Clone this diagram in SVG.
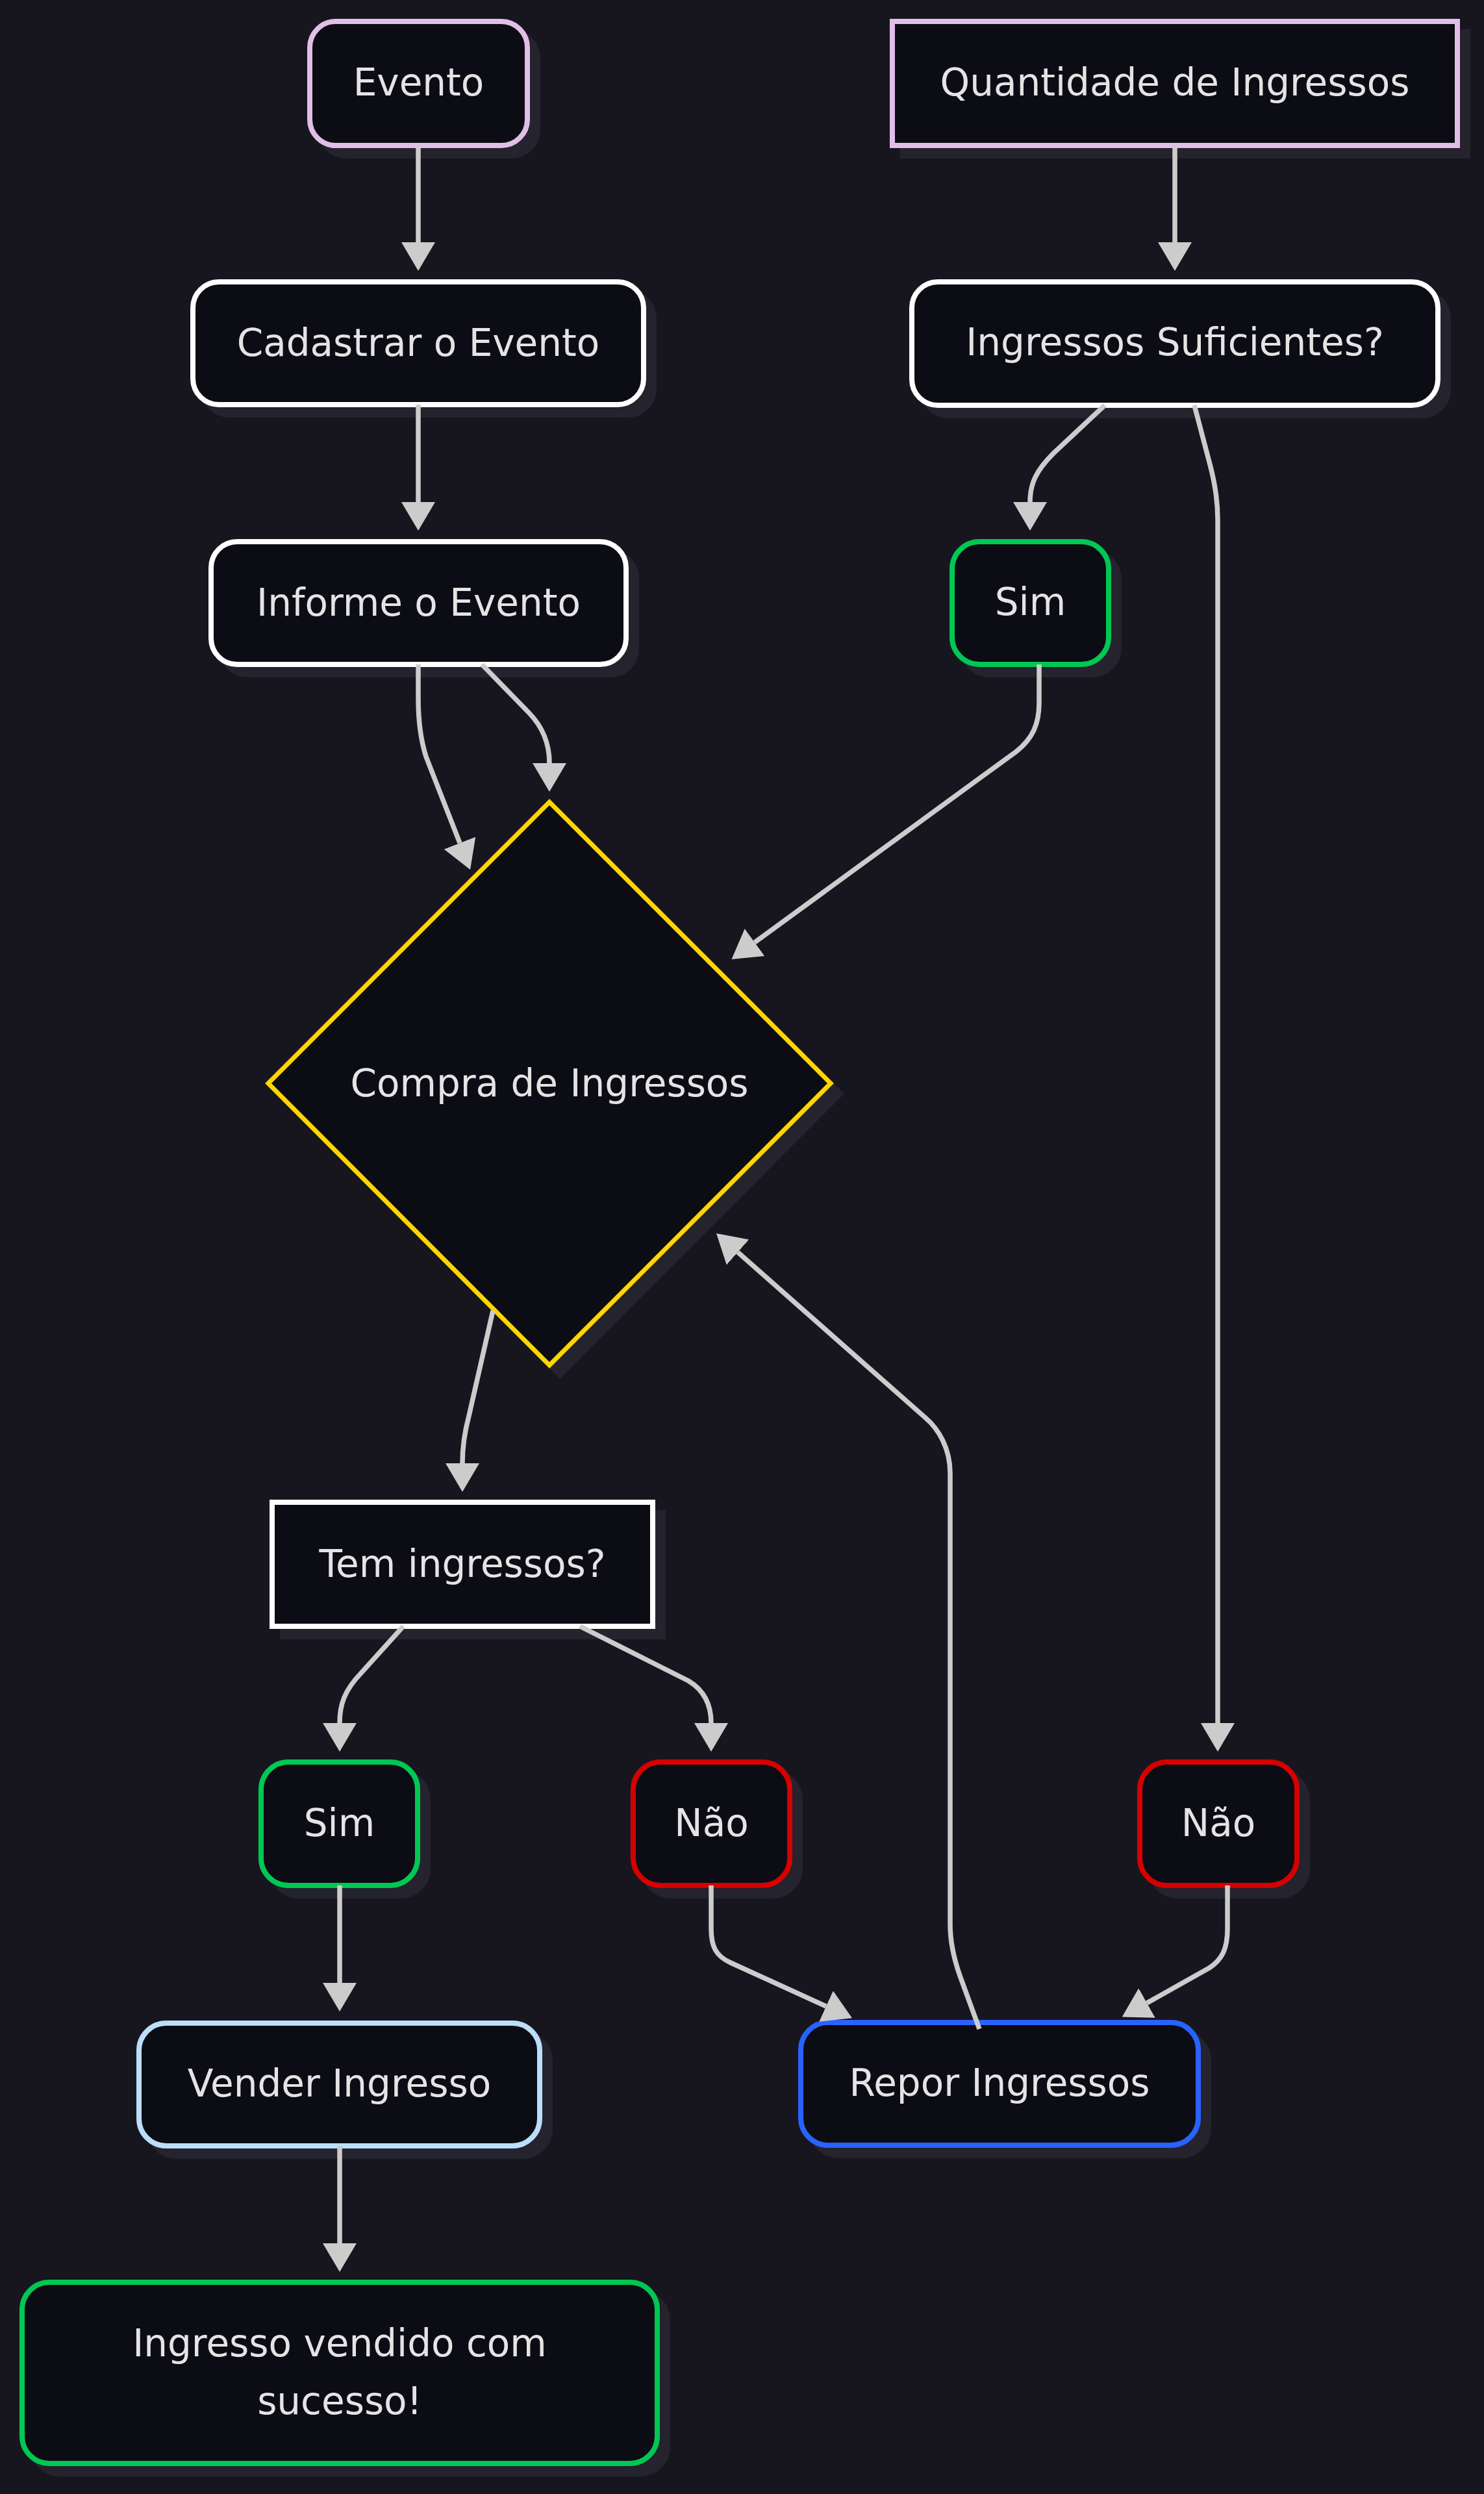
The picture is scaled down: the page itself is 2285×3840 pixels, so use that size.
<svg xmlns="http://www.w3.org/2000/svg" width="2285" height="3840" viewBox="0 0 2285 3840">
<style>
.sh{fill:#24232e;stroke:#24232e;stroke-width:8}
.n{fill:#0c0c14;stroke-width:8}
.t{font-family:"DejaVu Sans","Liberation Sans",sans-serif;font-size:58px;fill:#e4e4e4;text-anchor:middle}
.e{fill:none;stroke:#cccccc;stroke-width:7.5}
.pk{stroke:#e1bee7}.wh{stroke:#ffffff}.gr{stroke:#00c853}.rd{stroke:#d50000}.bl{stroke:#2962ff}.lb{stroke:#bbdefb}.yl{stroke:#ffd600;stroke-width:7}
</style>
<defs>
<marker id="arr" viewBox="0 0 44 52" markerWidth="44" markerHeight="52" refX="0" refY="26" orient="auto" markerUnits="userSpaceOnUse">
<path d="M0,0 L44,26 L0,52 Z" fill="#cccccc"/>
</marker>
</defs>
<rect width="2285" height="3840" fill="#17161f"/>

<g id="evento">
<rect class="sh" x="493" y="49" width="335" height="191" rx="40"/>
<rect class="n pk" x="477" y="33" width="335" height="191" rx="40"/>
<text class="t" x="644.5" y="147">Evento</text>
</g>
<g id="quantidade">
<rect class="sh" x="1390" y="49" width="870" height="191"/>
<rect class="n pk" x="1374" y="33" width="870" height="191"/>
<text class="t" x="1809" y="147">Quantidade de Ingressos</text>
</g>
<g id="cadastrar">
<rect class="sh" x="313" y="450" width="694" height="189" rx="40"/>
<rect class="n wh" x="297" y="434" width="694" height="189" rx="40"/>
<text class="t" x="644" y="548">Cadastrar o Evento</text>
</g>
<g id="suficientes">
<rect class="sh" x="1420" y="450" width="810" height="190" rx="40"/>
<rect class="n wh" x="1404" y="434" width="810" height="190" rx="40"/>
<text class="t" x="1809" y="547">Ingressos Suficientes?</text>
</g>
<g id="informe">
<rect class="sh" x="341" y="850" width="639" height="189" rx="40"/>
<rect class="n wh" x="325" y="834" width="639" height="189" rx="40"/>
<text class="t" x="644.5" y="948">Informe o Evento</text>
</g>
<g id="sim1">
<rect class="sh" x="1482" y="850" width="241" height="189" rx="42"/>
<rect class="n gr" x="1466" y="834" width="241" height="189" rx="42"/>
<text class="t" x="1586.5" y="947">Sim</text>
</g>
<g id="compra">
<polygon class="sh" points="862,1251 1295,1684 862,2118 429,1684" style="stroke-width:7"/>
<polygon class="n yl" points="846,1235 1279,1668 846,2102 413,1668"/>
<text class="t" x="846" y="1688">Compra de Ingressos</text>
</g>
<g id="tem">
<rect class="sh" x="435" y="2329" width="586" height="191"/>
<rect class="n wh" x="419" y="2313" width="586" height="191"/>
<text class="t" x="712" y="2428">Tem ingressos?</text>
</g>
<g id="sim2">
<rect class="sh" x="418" y="2729" width="241" height="190" rx="42"/>
<rect class="n gr" x="402" y="2713" width="241" height="190" rx="42"/>
<text class="t" x="522.5" y="2827">Sim</text>
</g>
<g id="nao1">
<rect class="sh" x="991" y="2729" width="241" height="190" rx="42"/>
<rect class="n rd" x="975" y="2713" width="241" height="190" rx="42"/>
<text class="t" x="1095.5" y="2827">Não</text>
</g>
<g id="nao2">
<rect class="sh" x="1771" y="2729" width="242" height="190" rx="42"/>
<rect class="n rd" x="1755" y="2713" width="242" height="190" rx="42"/>
<text class="t" x="1876" y="2827">Não</text>
</g>
<g id="repor">
<rect class="sh" x="1249" y="3130" width="612" height="189" rx="42"/>
<rect class="n bl" x="1233" y="3114" width="612" height="189" rx="42"/>
<text class="t" x="1539" y="3227">Repor Ingressos</text>
</g>
<g id="vender">
<rect class="sh" x="230" y="3131" width="617" height="189" rx="42"/>
<rect class="n lb" x="214" y="3115" width="617" height="189" rx="42"/>
<text class="t" x="522.5" y="3228">Vender Ingresso</text>
</g>
<g id="vendido">
<rect class="sh" x="50" y="3530" width="978" height="279" rx="42"/>
<rect class="n gr" x="34" y="3514" width="978" height="279" rx="42"/>
<text class="t" x="523" y="3628">Ingresso vendido com</text>
<text class="t" x="523" y="3717">sucesso!</text>
</g>

<g id="connectors" marker-end="url(#arr)">
<path class="e" marker-end="url(#arr)" d="M644,224 L644,373"/>
<path class="e" marker-end="url(#arr)" d="M1809,224 L1809,373"/>
<path class="e" marker-end="url(#arr)" d="M644,623 L644,773"/>
<path class="e" marker-end="url(#arr)" d="M1701,624 L1622,698 C1595,725 1586,745 1586,773"/>
<path class="e" marker-end="url(#arr)" d="M1839,624 L1863,715 C1871,745 1875,770 1875,800 L1875,2653"/>
<path class="e" marker-end="url(#arr)" d="M644,1023 L644,1075 C644,1110 648,1140 656,1165 L708,1298"/>
<path class="e" marker-end="url(#arr)" d="M742,1023 L815,1098 C838,1122 846,1150 846,1175"/>
<path class="e" marker-end="url(#arr)" d="M1600,1023 L1600,1082 C1600,1115 1590,1137 1565,1157 L1162,1451"/>
<path class="e" marker-end="url(#arr)" d="M759,2018 L722,2180 C714,2210 712,2230 712,2253"/>
<path class="e" marker-end="url(#arr)" d="M621,2504 L556,2576 C530,2603 523,2625 523,2653"/>
<path class="e" marker-end="url(#arr)" d="M893,2504 L1060,2588 C1085,2603 1095,2625 1095,2653"/>
<path class="e" marker-end="url(#arr)" d="M523,2903 L523,3053"/>
<path class="e" marker-end="url(#arr)" d="M523,3304 L523,3454"/>
<path class="e" marker-end="url(#arr)" d="M1095,2903 L1095,2970 C1095,2998 1103,3012 1125,3022 L1272,3089"/>
<path class="e" marker-end="url(#arr)" d="M1890,2903 L1890,2970 C1890,3000 1882,3017 1862,3030 L1766,3084"/>
<path class="e" marker-end="url(#arr)" d="M1508,3124 L1478,3042 C1472,3025 1463,2995 1463,2963 L1463,2268 C1463,2230 1445,2200 1425,2183 L1136,1928"/>
</g>
</svg>
